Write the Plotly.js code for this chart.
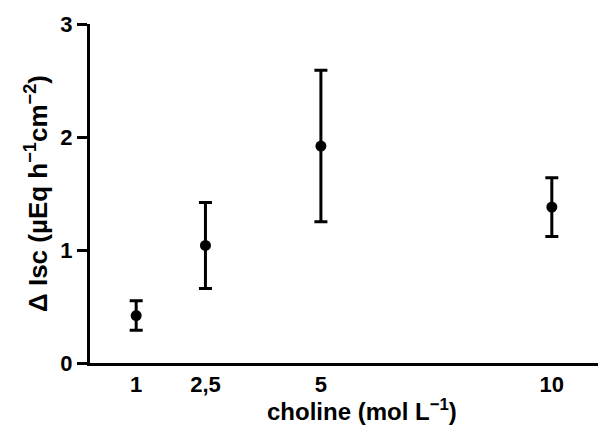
<!DOCTYPE html>
<html>
<head>
<meta charset="utf-8">
<script src="https://cdn.plot.ly/plotly-3.0.1.min.js"></script>
<style>html,body{margin:0;padding:0;background:#fff}#chart{width:599px;height:429px}</style>
</head>
<body>
<div id="chart"></div>
<script>
const concentrations = [1, 2.5, 5, 10];
const deltaIsc = [0.42, 1.04, 1.92, 1.38];
const errPlus = [0.13, 0.38, 0.67, 0.26];
const errMinus = [0.13, 0.38, 0.67, 0.26];
const xTickVals = [1, 2.5, 5, 10];
const xTickText = ['1', '2,5', '5', '10'];
const yTickVals = [0, 1, 2, 3];
const xTitle = 'choline (mol L<sup>−1</sup>)';
const yTitle = 'Δ Isc (µEq h<sup>−1</sup>cm<sup>−2</sup>)';

const font = 'Liberation Sans, Arial, sans-serif';

Plotly.newPlot('chart', [{
  type: 'scatter',
  mode: 'markers',
  x: concentrations,
  y: deltaIsc,
  marker: {color: '#000', size: 11},
  error_y: {type: 'data', symmetric: false, array: errPlus, arrayminus: errMinus,
            color: '#000', thickness: 3, width: 6.5}
}], {
  width: 599, height: 429,
  margin: {l: 90, r: 1, t: 24, b: 66},
  paper_bgcolor: '#fff', plot_bgcolor: '#fff',
  showlegend: false,
  font: {family: font, color: '#000', size: 22, weight: 'bold'},
  xaxis: {
    range: [0, 11], showgrid: false, zeroline: false,
    showline: true, linecolor: '#000', linewidth: 3,
    ticks: '', tickvals: xTickVals, ticktext: xTickText,
    tickfont: {family: font, size: 22, weight: 'bold', color: '#000'}
  },
  yaxis: {
    range: [0, 3], showgrid: false, zeroline: false,
    showline: true, linecolor: '#000', linewidth: 3,
    ticks: 'outside', ticklen: 10, tickwidth: 3, tickcolor: '#000',
    tickvals: yTickVals,
    tickfont: {family: font, size: 22, weight: 'bold', color: '#000'},
    title: {text: yTitle, font: {family: font, size: 26, weight: 'bold'}, standoff: 6}
  },
  annotations: [{
    text: xTitle, xref: 'paper', yref: 'paper', x: 0.535, y: -0.14,
    xanchor: 'center', yanchor: 'middle', showarrow: false,
    font: {family: font, size: 24, weight: 'bold', color: '#000'}
  }]
}, {staticPlot: true});
</script>
</body>
</html>
